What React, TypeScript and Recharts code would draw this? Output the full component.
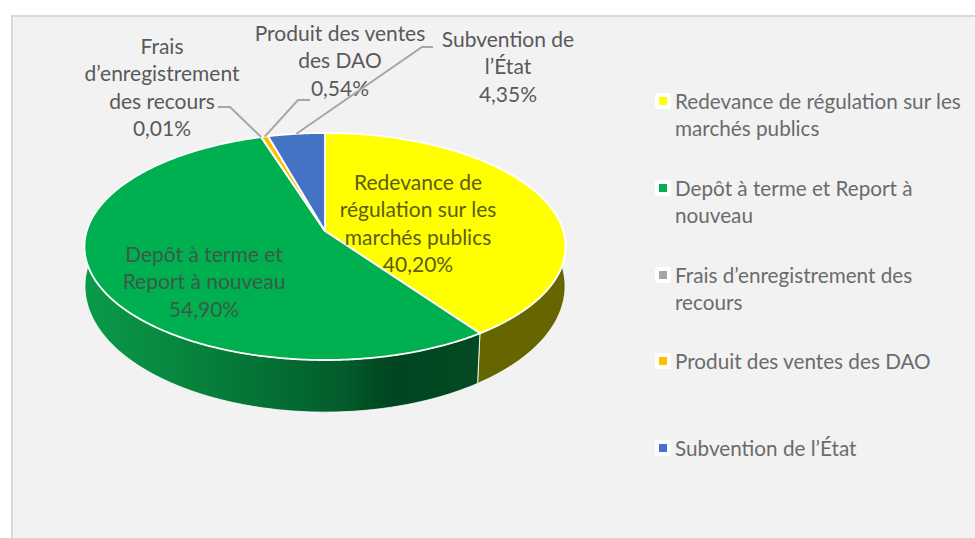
import { Legend, Pie, PieChart } from "recharts";

const names = [
  "Redevance de régulation sur les marchés publics",
  "Depôt à terme et Report à nouveau",
  "Frais d’enregistrement des recours",
  "Produit des ventes des DAO",
  "Subvention de l’État",
];
const shares = [40.2, 54.9, 0.01, 0.54, 4.35];
const shareLabels = ["40,20%", "54,90%", "0,01%", "0,54%", "4,35%"];
const colors = ["#FFFF00", "#00B050", "#A5A5A5", "#FFC000", "#4472C4"];
const labelLines = [
  ["Redevance de", "régulation sur les", "marchés publics"],
  ["Depôt à terme et", "Report à nouveau"],
  ["Frais", "d’enregistrement", "des recours"],
  ["Produit des ventes", "des DAO"],
  ["Subvention de", "l’État"],
];

// where each label sits, and the elbow of its leader line if it has one
const labelLayout = [
  { x: 418, y: 190, color: "#5c5c14" },
  { x: 204, y: 262, color: "#3c5a48" },
  { x: 162, y: 54, color: "#595959", leader: [[218, 107], [230, 107]] },
  { x: 340, y: 41, color: "#595959", leader: [[310, 100], [298, 100]] },
  { x: 508, y: 47, color: "#595959", leader: [[433, 47], [422, 47]] },
];

const tableData = names.map((name, i) => ({ name, value: shares[i], fill: colors[i] }));

const FONT = "Lato, 'Noto Sans', sans-serif";
const LINE_H = 27.4;

// the pie is seen in perspective: the centre sits above the middle of the ellipse,
// and the lower rim has its own, slightly different, projection
const CX = 325;
const TOP_RIM = { y: 231, rx: 238.3, ry: 111.4, k: 0.1366 };
const BOTTOM_RIM = { y: 271, rx: 238.3, ry: 124.2, k: 0.12 };

const project = (deg: number, r = TOP_RIM) => {
  const a = (deg * Math.PI) / 180;
  const u = Math.cos(a);
  const v = -Math.sin(a);
  const w = 1 - r.k * v;
  return [CX + (r.rx * u) / w, r.y + (r.ry * v) / w];
};

const rim = (from: number, to: number, r = TOP_RIM) => {
  const steps = Math.max(2, Math.ceil(Math.abs(to - from) * 2));
  const pts: number[][] = [];
  for (let i = 0; i <= steps; i++) pts.push(project(from + ((to - from) * i) / steps, r));
  return pts;
};

const toPath = (pts: number[][]) =>
  "M" + pts.map((p) => `${p[0].toFixed(2)},${p[1].toFixed(2)}`).join("L") + "Z";

const TopFace = (props: any) => {
  const { startAngle, endAngle, fill } = props;
  return (
    <path
      d={toPath([[CX, TOP_RIM.y], ...rim(startAngle, endAngle)])}
      fill={fill}
      stroke="#fff"
      strokeWidth={1.8}
      strokeLinejoin="round"
    />
  );
};

const SideWall = (props: any) => {
  const { startAngle, endAngle, index } = props;
  const pts = [...rim(startAngle, endAngle), ...rim(endAngle, startAngle, BOTTOM_RIM)];
  const wallFill = index === 0 ? "#666600" : index === 1 ? "url(#greenWall)" : "#555";
  return <path d={toPath(pts)} fill={wallFill} stroke="#fff" strokeWidth={1} strokeOpacity={0.85} />;
};

const renderLabel = (props: any) => {
  const { index, midAngle } = props;
  const l = labelLayout[index];
  const lines = [...labelLines[index], shareLabels[index]];
  const end = project(midAngle);
  return (
    <g>
      {l.leader && (
        <polyline
          points={[...l.leader, end].map((p) => p.join(",")).join(" ")}
          fill="none"
          stroke="#A6A6A6"
          strokeWidth={2}
        />
      )}
      <text x={l.x} y={l.y} textAnchor="middle" fill={l.color} fontFamily={FONT} fontSize={21}>
        {lines.map((t, i) => (
          <tspan key={t} x={l.x} y={l.y + i * LINE_H}>
            {t}
          </tspan>
        ))}
      </text>
    </g>
  );
};

const renderLegend = (props: any) => (
  <div>
    {props.payload
      .filter((item: any) => item.type !== "none")
      .map((item: any) => (
        <div key={item.value} style={{ height: 86.75, position: "relative", paddingLeft: 20 }}>
          <span
            style={{
              position: "absolute",
              left: 0,
              top: 5,
              width: 8,
              height: 8,
              border: "4px solid #fff",
              borderRadius: 2,
              background: item.color,
            }}
          />
          <span style={{ color: "#6b6b6b", fontFamily: FONT, fontSize: 20.7, lineHeight: "27.4px", display: "block" }}>
            {item.value}
          </span>
        </div>
      ))}
  </div>
);

export default function App() {
  return (
    <div style={{ position: "absolute", left: 0, top: 0, width: 975, height: 538, background: "#fff", overflow: "hidden" }}>
      <div
        style={{
          position: "absolute",
          left: 11,
          top: 15,
          width: 964,
          height: 523,
          boxSizing: "border-box",
          background: "#f2f2f2",
          borderLeft: "2px solid #d9d9d9",
          borderTop: "2px solid #d9d9d9",
        }}
      />
      <PieChart width={975} height={538} style={{ position: "absolute", left: 0, top: 0 }}>
        <defs>
          <linearGradient id="greenWall" gradientUnits="userSpaceOnUse" x1={85} x2={480} y1={0} y2={0}>
            <stop offset="0" stopColor="#0A9A4A" />
            <stop offset="0.25" stopColor="#07853E" />
            <stop offset="0.5" stopColor="#046C33" />
            <stop offset="0.65" stopColor="#035C2B" />
            <stop offset="0.78" stopColor="#00451F" />
            <stop offset="1" stopColor="#034A23" />
          </linearGradient>
        </defs>
        <Pie
          data={tableData}
          dataKey="value"
          nameKey="name"
          cx={CX}
          cy={TOP_RIM.y}
          outerRadius={TOP_RIM.rx}
          startAngle={90}
          endAngle={-270}
          legendType="none"
          shape={SideWall}
          label={false}
          labelLine={false}
          isAnimationActive={false}
        />
        <Pie
          data={tableData}
          dataKey="value"
          nameKey="name"
          cx={CX}
          cy={TOP_RIM.y}
          outerRadius={TOP_RIM.rx}
          startAngle={90}
          endAngle={-270}
          legendType="square"
          shape={TopFace}
          label={renderLabel}
          labelLine={false}
          isAnimationActive={false}
        />
        <Legend
          layout="vertical"
          content={renderLegend}
          itemSorter={null}
          wrapperStyle={{ position: "absolute", left: 655, top: 88, width: 320, right: "auto", bottom: "auto" }}
        />
      </PieChart>
    </div>
  );
}
